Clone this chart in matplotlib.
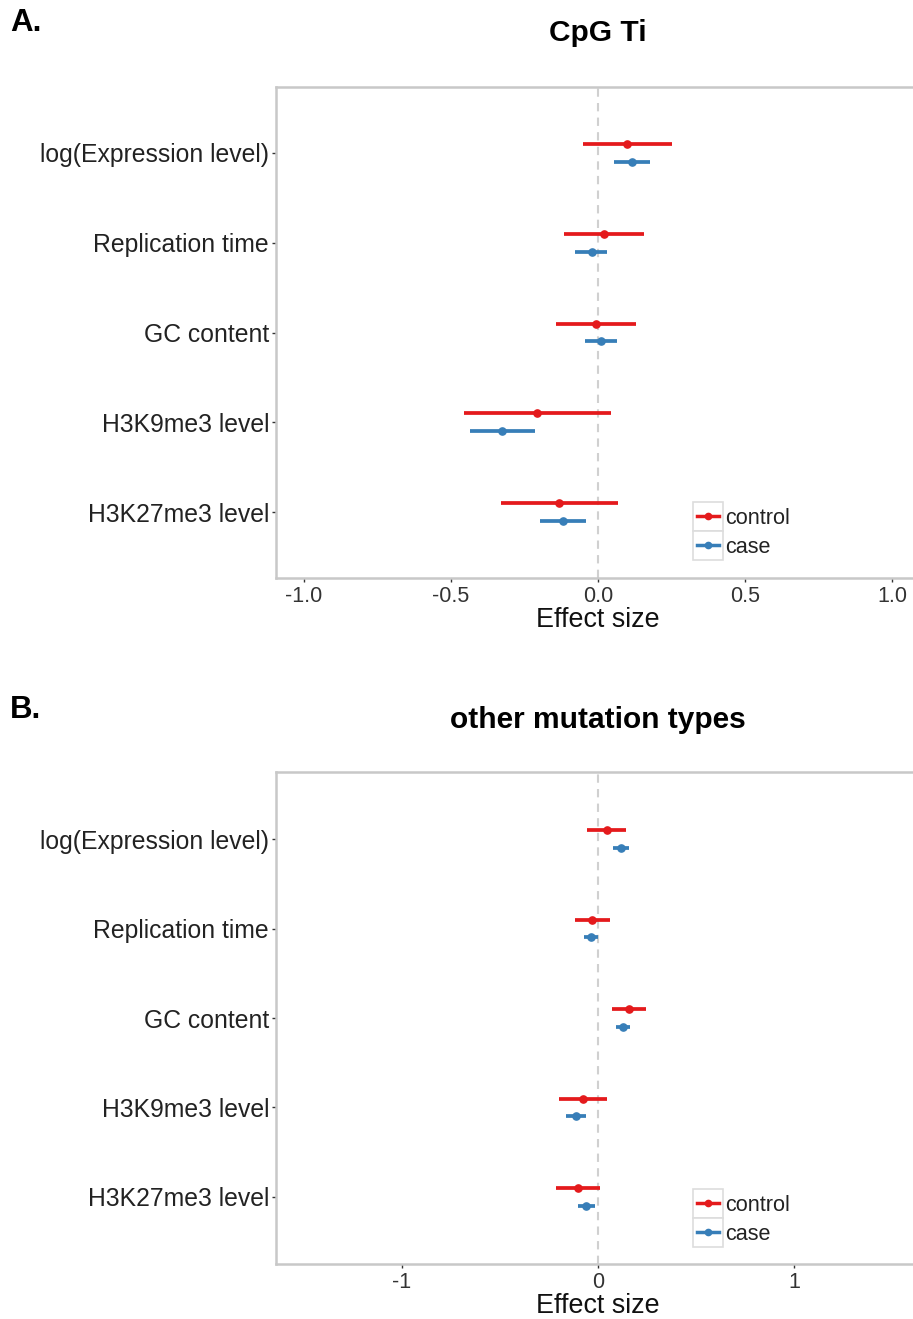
import numpy as np
import matplotlib.pyplot as plt
from matplotlib.legend_handler import HandlerBase
from matplotlib.patches import Rectangle
from matplotlib.lines import Line2D

plt.rcParams['font.family'] = ['Liberation Sans', 'DejaVu Sans']

features = ['log(Expression level)', 'Replication time', 'GC content',
            'H3K9me3 level', 'H3K27me3 level']

# panel A: CpG Ti
a_ctrl = [0.099, 0.022, -0.006, -0.206, -0.131]
a_ctrl_lo = [-0.052, -0.116, -0.142, -0.456, -0.331]
a_ctrl_hi = [0.251, 0.158, 0.130, 0.045, 0.068]
a_case = [0.116, -0.022, 0.010, -0.325, -0.120]
a_case_lo = [0.056, -0.077, -0.045, -0.435, -0.198]
a_case_hi = [0.177, 0.032, 0.063, -0.215, -0.040]

# panel B: other mutation types
b_ctrl = [0.044, -0.029, 0.159, -0.079, -0.100]
b_ctrl_lo = [-0.056, -0.117, 0.069, -0.201, -0.213]
b_ctrl_hi = [0.144, 0.059, 0.247, 0.046, 0.008]
b_case = [0.119, -0.036, 0.128, -0.111, -0.061]
b_case_lo = [0.079, -0.069, 0.094, -0.161, -0.100]
b_case_hi = [0.159, 0.000, 0.163, -0.059, -0.017]

RED = '#E41A1C'
BLUE = '#377EB8'
W, H = 913, 1319


class KeyHandler(HandlerBase):
    # ggplot-like legend key: grey box with a line and a dot
    def create_artists(self, legend, orig_handle, xdescent, ydescent,
                       width, height, fontsize, trans):
        c = orig_handle.get_color()
        box = Rectangle((-xdescent, -ydescent), width, height, fc='white',
                        ec='#DDDDDD', lw=1.2, transform=trans)
        ym = -ydescent + height / 2
        ln = Line2D([-xdescent + 0.12 * width, -xdescent + 0.88 * width], [ym, ym],
                    color=c, lw=2.5, transform=trans)
        dot = Line2D([-xdescent + width / 2], [ym], marker='o', ms=4.5,
                     color=c, transform=trans)
        return [box, ln, dot]


def panel(top, bottom, xlim, ticks, ticklabels, ylim, ctrl, clo, chi, case, slo, shi,
          title, letter, title_y, letter_y, leg_top):
    ax = fig.add_axes([276 / W, 1 - bottom / H, (920 - 276) / W, (bottom - top) / H])
    y = np.arange(len(features))[::-1] + 1.0
    ctrl, clo, chi = map(np.array, (ctrl, clo, chi))
    case, slo, shi = map(np.array, (case, slo, shi))
    ax.axvline(0, color='#D0D0D0', lw=1.5, ls=(0, (4, 3)), zorder=1)
    ax.errorbar(ctrl, y + 0.1, xerr=[ctrl - clo, chi - ctrl], fmt='o', color=RED,
                ms=5.2, elinewidth=2.7, capsize=0, zorder=3)
    ax.errorbar(case, y - 0.1, xerr=[case - slo, shi - case], fmt='o', color=BLUE,
                ms=5.2, elinewidth=2.7, capsize=0, zorder=3)
    ax.set_xlim(*xlim)
    ax.set_ylim(*ylim)
    ax.set_yticks(y)
    ax.set_yticklabels(features, fontsize=17.8, color='#222222')
    ax.set_xticks(ticks)
    ax.set_xticklabels(ticklabels, fontsize=15.5, color='#333333')
    ax.tick_params(length=3, width=1, color='#333333', pad=2)
    ax.tick_params(axis='x', pad=3)
    for s in ax.spines.values():
        s.set_color('#C8C8C8')
        s.set_linewidth(1.8)
    ax.set_xlabel('Effect size', fontsize=19.4, color='#111111', labelpad=0)
    fig.text(598 / W, 1 - title_y / H, title, ha='center', va='center',
             fontsize=21.5, fontweight='bold')
    fig.text(10 / W, 1 - letter_y / H, letter, ha='left', va='center',
             fontsize=22.5, fontweight='bold')
    handles = [Line2D([], [], color=RED), Line2D([], [], color=BLUE)]
    ax.legend(handles, ['control', 'case'], handler_map={Line2D: KeyHandler()},
              loc='upper left', bbox_to_anchor=(693 / W, 1 - leg_top / H),
              bbox_transform=fig.transFigure, frameon=False, fontsize=15.6,
              borderpad=0, borderaxespad=0, labelspacing=0, handlelength=1.38,
              handleheight=1.68, handletextpad=0.12, labelcolor='#222222')
    return ax


fig = plt.figure(figsize=(W / 100, H / 100), dpi=100)
panel(87, 578, (-1.095, 1.095), [-1, -0.5, 0, 0.5, 1],
      ['-1.0', '-0.5', '0.0', '0.5', '1.0'], (0.27, 5.73),
      a_ctrl, a_ctrl_lo, a_ctrl_hi, a_case, a_case_lo, a_case_hi,
      'CpG Ti', 'A.', 33, 23, 502)
panel(772, 1264, (-1.642, 1.642), [-1, 0, 1], ['-1', '0', '1'], (0.25, 5.75),
      b_ctrl, b_ctrl_lo, b_ctrl_hi, b_case, b_case_lo, b_case_hi,
      'other mutation types', 'B.', 720, 710, 1189)
fig.savefig('out.png', dpi=100)
